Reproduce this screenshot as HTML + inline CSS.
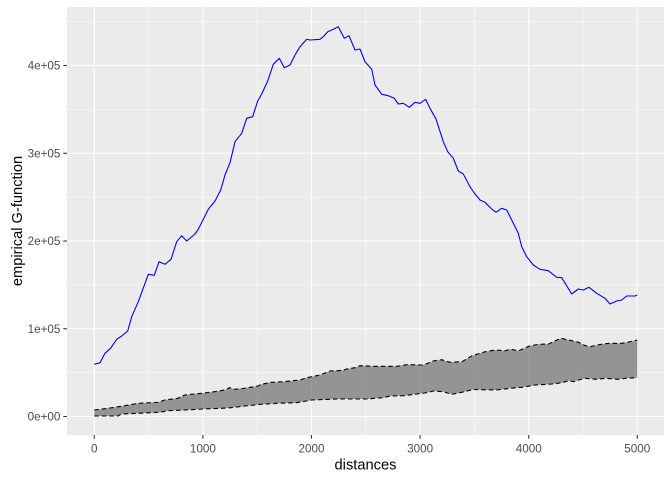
<!DOCTYPE html>
<html>
<head>
<meta charset="utf-8">
<style>
html,body{margin:0;padding:0;background:#fff;}
svg{display:block;}
text{font-family:"Liberation Sans",Arial,sans-serif;}
</style>
</head>
<body>
<svg width="672" height="480" viewBox="0 0 672 480" xmlns="http://www.w3.org/2000/svg">
<rect x="0" y="0" width="672" height="480" fill="#ffffff"/>
<!-- panel -->
<rect x="67" y="7" width="597" height="428" fill="#EBEBEB"/>
<!-- minor grid -->
<g stroke="#ffffff" stroke-width="0.55" fill="none">
<line x1="67" x2="664" y1="372.6" y2="372.6"/>
<line x1="67" x2="664" y1="284.9" y2="284.9"/>
<line x1="67" x2="664" y1="197.1" y2="197.1"/>
<line x1="67" x2="664" y1="109.4" y2="109.4"/>
<line x1="67" x2="664" y1="21.6" y2="21.6"/>
<line y1="7" y2="435" x1="148.6" x2="148.6"/>
<line y1="7" y2="435" x1="257.2" x2="257.2"/>
<line y1="7" y2="435" x1="365.8" x2="365.8"/>
<line y1="7" y2="435" x1="474.4" x2="474.4"/>
<line y1="7" y2="435" x1="583.0" x2="583.0"/>
</g>
<!-- major grid -->
<g stroke="#ffffff" stroke-width="1.1" fill="none">
<line x1="67" x2="664" y1="416.5" y2="416.5"/>
<line x1="67" x2="664" y1="328.75" y2="328.75"/>
<line x1="67" x2="664" y1="241" y2="241"/>
<line x1="67" x2="664" y1="153.25" y2="153.25"/>
<line x1="67" x2="664" y1="65.5" y2="65.5"/>
<line y1="7" y2="435" x1="94.3" x2="94.3"/>
<line y1="7" y2="435" x1="202.9" x2="202.9"/>
<line y1="7" y2="435" x1="311.5" x2="311.5"/>
<line y1="7" y2="435" x1="420.1" x2="420.1"/>
<line y1="7" y2="435" x1="528.7" x2="528.7"/>
<line y1="7" y2="435" x1="637.3" x2="637.3"/>
</g>
<!-- ribbon -->
<polygon fill="rgb(95,95,95)" fill-opacity="0.62" stroke="none" points="
94.3,410 108,408.3 124.7,405.7 138,403.3 158,402.3 164.7,400 178,398.3 184.7,395 201.3,393.3 214.7,391.7 224.7,390 229.7,387.7 234.7,389.3 244.7,388.3 258,386 261.3,384.3 271.3,382.3 283.3,381.7 300,380 306.7,377.7 320,375 330,371 343.3,370.3 346.7,369 355,367.7 360,365.7 373.3,366.3 396.7,366.3 406.7,364.7 423.3,365 433.3,361 441.7,359.7 450,362.3 462,361.7 472,355.7 485.3,351.7 495.3,350 505.3,350.7 510.3,349.3 518.7,350.7 530.3,345.7 538.7,344.3 548.7,344 555.3,340.7 561.3,338.3 568.7,340 578.7,342.3 585.3,345.7 590.3,346.7 598.7,344.7 608.7,343.3 622,343.3 630.3,341.7 637.3,340
637.3,377.7 625.3,378.3 618.7,379.3 605.3,378.3 597,379.3 585.3,378.3 578.7,380 573.7,381.7 568.7,380.7 562,382.7 552,384 535.3,385 522,387.3 510,388.3 496.7,390 473.3,389.5 460,392.7 451.7,394.3 443.3,391.7 433.3,391 426.7,392.7 416.7,394 403.3,395.7 390,396 383.3,397.7 366.7,399 336.7,399 311.7,400 296.7,402.7 278,403.3 261.3,404.3 244.7,406 231.3,407.7 221.3,408.3 203,409 184.7,410 168,410.7 159.7,412.3 138,413.3 121.3,414 118,416 94.3,416"/>
<g fill="none" stroke="#000000" stroke-width="1.1" stroke-dasharray="4.5,3">
<polyline points="94.3,410 108,408.3 124.7,405.7 138,403.3 158,402.3 164.7,400 178,398.3 184.7,395 201.3,393.3 214.7,391.7 224.7,390 229.7,387.7 234.7,389.3 244.7,388.3 258,386 261.3,384.3 271.3,382.3 283.3,381.7 300,380 306.7,377.7 320,375 330,371 343.3,370.3 346.7,369 355,367.7 360,365.7 373.3,366.3 396.7,366.3 406.7,364.7 423.3,365 433.3,361 441.7,359.7 450,362.3 462,361.7 472,355.7 485.3,351.7 495.3,350 505.3,350.7 510.3,349.3 518.7,350.7 530.3,345.7 538.7,344.3 548.7,344 555.3,340.7 561.3,338.3 568.7,340 578.7,342.3 585.3,345.7 590.3,346.7 598.7,344.7 608.7,343.3 622,343.3 630.3,341.7 637.3,340"/>
<polyline points="94.3,416 118,416 121.3,414 138,413.3 159.7,412.3 168,410.7 184.7,410 203,409 221.3,408.3 231.3,407.7 244.7,406 261.3,404.3 278,403.3 296.7,402.7 311.7,400 336.7,399 366.7,399 383.3,397.7 390,396 403.3,395.7 416.7,394 426.7,392.7 433.3,391 443.3,391.7 451.7,394.3 460,392.7 473.3,389.5 496.7,390 510,388.3 522,387.3 535.3,385 552,384 562,382.7 568.7,380.7 573.7,381.7 578.7,380 585.3,378.3 597,379.3 605.3,378.3 618.7,379.3 625.3,378.3 637.3,377.7"/>
</g>
<!-- blue line -->
<polyline fill="none" stroke="#0000FF" stroke-width="1.1" stroke-linejoin="round" points="
94.3,364.3 100,362.7 105,353.3 111,347.7 116.7,339.3 121.7,336 127.7,331 131.7,316.7 138.3,301.7 148.3,274.3 154.3,275.3 159,261.7 165,264.3 171,259.3 176.7,241.7 181.7,235.7 186.7,241 195,234 198.3,229.3 208.3,209.3 215,201 220.7,190 225,175 230,162.7 235,141.7 241.7,133.3 246.7,118.3 252.7,116.7 257.7,101 261.7,94 267.7,81 273.3,64.3 279.3,58.3 284.3,67.7 290,65 295,55 300,46.7 306.7,39.3 310,40 320,39.3 323.3,36.7 327.7,31.7 333.3,29.3 338.3,26.7 344.3,38.3 349,35.7 355,50 360,49 365,61.7 371.7,69.3 375,85 381.7,94.3 388.3,95.7 394.3,98.3 398.3,104 403.3,103.3 409.3,107.3 415,102.3 420,103.3 425.7,99.3 430,108.3 436,119 443.3,141.7 447.7,151.7 453.3,158.3 458.3,171 463.3,174 470,186.7 474.3,193 480,200 485,202.3 491.7,209 496,212.3 501.7,208.3 506.7,210 511.7,220 518.3,233.3 521.7,246.7 526.7,256.7 533.3,265 540,269.3 548.3,270.7 556.7,277.3 561.7,277.7 571.7,294 578.3,289 583.3,290 589,287.3 596.7,293.3 605,298.3 610,304 616.7,301 621.7,300 626.7,296 635,296 637.3,295"/>
<!-- ticks -->
<g stroke="#333333" stroke-width="1.1">
<line x1="63.3" x2="67" y1="416.5" y2="416.5"/>
<line x1="63.3" x2="67" y1="328.75" y2="328.75"/>
<line x1="63.3" x2="67" y1="241" y2="241"/>
<line x1="63.3" x2="67" y1="153.25" y2="153.25"/>
<line x1="63.3" x2="67" y1="65.5" y2="65.5"/>
<line y1="435" y2="438.7" x1="94.3" x2="94.3"/>
<line y1="435" y2="438.7" x1="202.9" x2="202.9"/>
<line y1="435" y2="438.7" x1="311.5" x2="311.5"/>
<line y1="435" y2="438.7" x1="420.1" x2="420.1"/>
<line y1="435" y2="438.7" x1="528.7" x2="528.7"/>
<line y1="435" y2="438.7" x1="637.3" x2="637.3"/>
</g>
<g fill="#4D4D4D" font-size="11.7" text-anchor="end">
<text x="60.4" y="420.7">0e+00</text>
<text x="60.4" y="332.95">1e+05</text>
<text x="60.4" y="245.2">2e+05</text>
<text x="60.4" y="157.45">3e+05</text>
<text x="60.4" y="69.7">4e+05</text>
</g>
<g fill="#4D4D4D" font-size="11.7" text-anchor="middle">
<text x="94.3" y="452.5">0</text>
<text x="202.9" y="452.5">1000</text>
<text x="311.5" y="452.5">2000</text>
<text x="420.1" y="452.5">3000</text>
<text x="528.7" y="452.5">4000</text>
<text x="637.3" y="452.5">5000</text>
</g>
<text x="365.5" y="469.3" font-size="14.67" fill="#000" text-anchor="middle">distances</text>
<text transform="translate(21.8,221) rotate(-90)" x="0" y="0" font-size="14.67" fill="#000" text-anchor="middle">empirical G-function</text>
</svg>
</body>
</html>
